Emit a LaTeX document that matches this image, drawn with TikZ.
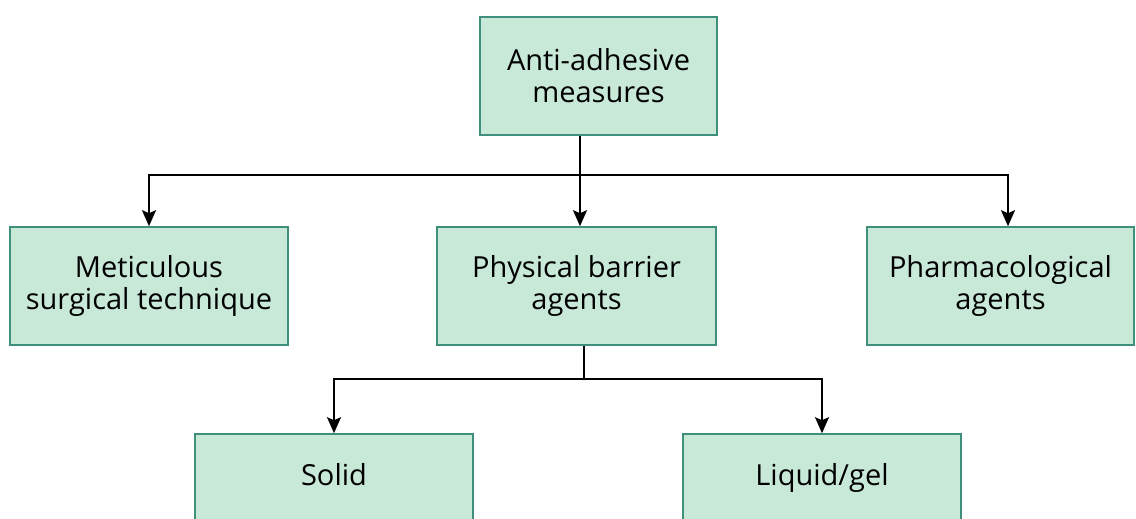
\documentclass[tikz,border=0pt]{standalone}
\usepackage{fontspec}
\setmainfont{Open Sans}
\definecolor{mintfill}{HTML}{C9E9D8}
\definecolor{mintedge}{HTML}{3F8F7D}
\usetikzlibrary{arrows.meta,positioning,calc}
\begin{document}
\begin{tikzpicture}[x=1pt,y=-1pt,
  box/.style={rectangle,draw=mintedge,fill=mintfill,line width=1.6pt,
    minimum height=118pt,align=center,inner sep=0pt,
    font=\fontsize{29}{32}\selectfont},
  leaf/.style={box,minimum width=278pt,minimum height=90pt},
  link/.style={line width=1.9pt,black},
  arr/.style={-{Stealth[length=16pt,width=14pt,inset=3pt]},line width=1.9pt,black}]
\useasboundingbox (0,0) rectangle (1136,519);
\clip (0,0) rectangle (1136,519);
% root of the tree
\node[box,minimum width=237pt] (root) at (598.5,76) {Anti-adhesive\\measures};
% second level
\node[box,minimum width=278pt] (surg) at (149,286) {Meticulous\\surgical technique};
\node[box,minimum width=279pt] (barr) at (576.5,286) {Physical barrier\\agents};
\node[box,minimum width=267pt] (pharm) at (1000.5,286) {Pharmacological\\agents};
% third level, cut by the page edge
\node[leaf] (solid) at (334,479) {\strut Solid};
\node[leaf] (gel) at (822,479) {\strut Liquid/gel};
% junctions
\coordinate (j1) at (580,175);
\coordinate (j2) at (584,379);
\draw[link] (root.south -| j1) -- (j1);
\draw[arr] (j1) -| (surg.north);
\draw[arr] (j1) -- (barr.north -| j1);
\draw[arr] (j1) -| ($(pharm.north)+(7.5,0)$);
\draw[link] (barr.south -| j2) -- (j2);
\draw[arr] (j2) -| (solid.north);
\draw[arr] (j2) -| (gel.north);
\end{tikzpicture}
\end{document}
